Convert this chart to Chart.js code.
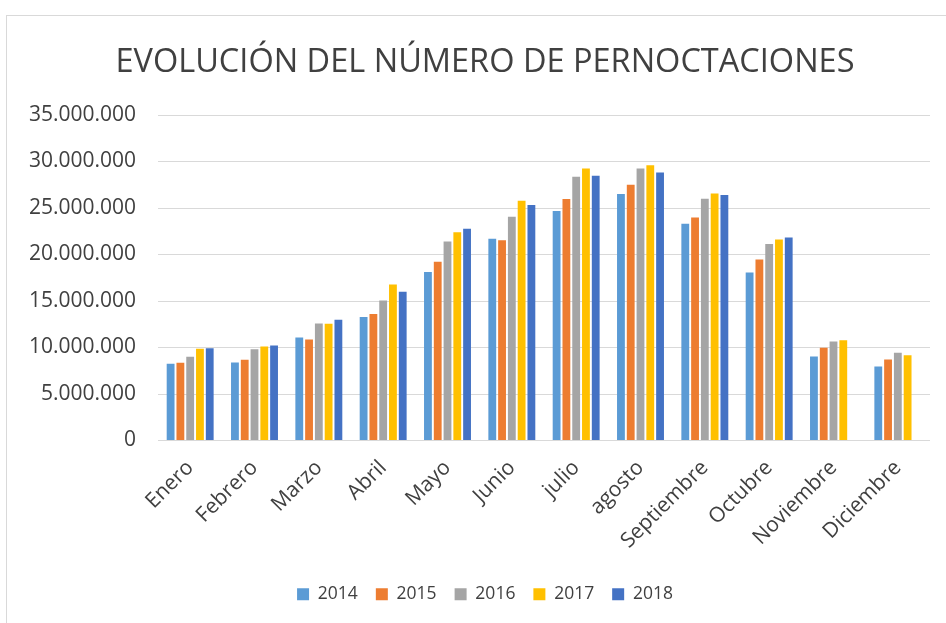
<!DOCTYPE html>
<html>
<head>
<meta charset="utf-8">
<script src="https://cdn.jsdelivr.net/npm/chart.js@4"></script>
<style>
  html, body { margin: 0; padding: 0; background: #fff; overflow: hidden; }
  #wrap { position: relative; width: 946px; height: 623px; }
  #frame { position: absolute; left: 6px; top: 15px; width: 960px; height: 640px; border: 1px solid #d9d9d9; box-sizing: border-box; }
  canvas { position: absolute; left: 0; top: 0; }
</style>
</head>
<body>
<div id="wrap">
  <div id="frame"></div>
  <canvas id="c" width="946" height="623"></canvas>
</div>
<script>
const categories = ["Enero", "Febrero", "Marzo", "Abril", "Mayo", "Junio", "julio", "agosto", "Septiembre", "Octubre", "Noviembre", "Diciembre"];
const years = ["2014", "2015", "2016", "2017", "2018"];
const v2014 = [8250000, 8390000, 11080000, 13270000, 18110000, 21700000, 24670000, 26500000, 23310000, 18070000, 9040000, 7960000];
const v2015 = [8360000, 8680000, 10870000, 13590000, 19220000, 21520000, 25960000, 27510000, 23990000, 19470000, 9970000, 8710000];
const v2016 = [9000000, 9820000, 12590000, 15060000, 21410000, 24070000, 28370000, 29260000, 26000000, 21120000, 10650000, 9430000];
const v2017 = [9860000, 10110000, 12550000, 16780000, 22380000, 25790000, 29260000, 29590000, 26570000, 21620000, 10790000, 9180000];
const v2018 = [9930000, 10220000, 12980000, 15990000, 22770000, 25320000, 28470000, 28830000, 26390000, 21840000, null, null];
const yTickValues = [0, 5000000, 10000000, 15000000, 20000000, 25000000, 30000000, 35000000];
const colors = ["#5B9BD5", "#ED7D31", "#A5A5A5", "#FFC000", "#4472C4"];
const series = [v2014, v2015, v2016, v2017, v2018];

function fmt(v) {
  return String(v).replace(/\B(?=(\d{3})+(?!\d))/g, ".");
}

const FONT = "'Open Sans', 'Noto Sans', sans-serif";

// shift title and legend centre slightly right, as in the original layout
const centreShift = {
  id: "centreShift",
  afterLayout(chart) {
    if (chart.titleBlock) chart.titleBlock.left += 26;
    if (chart.legend) chart.legend.left += 26;
  }
};

new Chart(document.getElementById("c"), {
  type: "bar",
  data: {
    labels: categories,
    datasets: series.map((d, i) => ({
      label: years[i],
      data: d,
      backgroundColor: colors[i],
      borderWidth: 0,
      categoryPercentage: 0.76,
      barPercentage: 0.8
    }))
  },
  plugins: [centreShift],
  options: {
    responsive: false,
    animation: false,
    devicePixelRatio: 1,
    layout: { padding: { left: 14, right: 16, top: 18, bottom: 10 } },
    plugins: {
      title: {
        display: true,
        text: "EVOLUCIÓN DEL NÚMERO DE PERNOCTACIONES",
        color: "#404040",
        font: { family: FONT, size: 32.5, weight: "normal" },
        padding: { top: 25, bottom: 33 }
      },
      legend: {
        position: "bottom",
        labels: {
          color: "#404040",
          font: { family: FONT, size: 17.5 },
          boxWidth: 12,
          boxHeight: 12,
          padding: 18
        }
      },
      tooltip: { enabled: false }
    },
    scales: {
      x: {
        grid: { display: false },
        border: { display: false },
        afterFit: (axis) => { axis.height = 127; },
        ticks: {
          color: "#404040",
          font: { family: FONT, size: 21 },
          maxRotation: 45,
          minRotation: 45,
          padding: 7
        }
      },
      y: {
        min: 0,
        max: 35000000,
        afterBuildTicks: (axis) => { axis.ticks = yTickValues.map(v => ({ value: v })); },
        afterFit: (axis) => { axis.width = 144; },
        grid: { color: "#d9d9d9", lineWidth: 1, drawTicks: false },
        border: { display: false },
        ticks: {
          color: "#404040",
          font: { family: FONT, size: 21 },
          padding: 22,
          callback: (v) => fmt(v)
        }
      }
    }
  }
});
</script>
</body>
</html>
